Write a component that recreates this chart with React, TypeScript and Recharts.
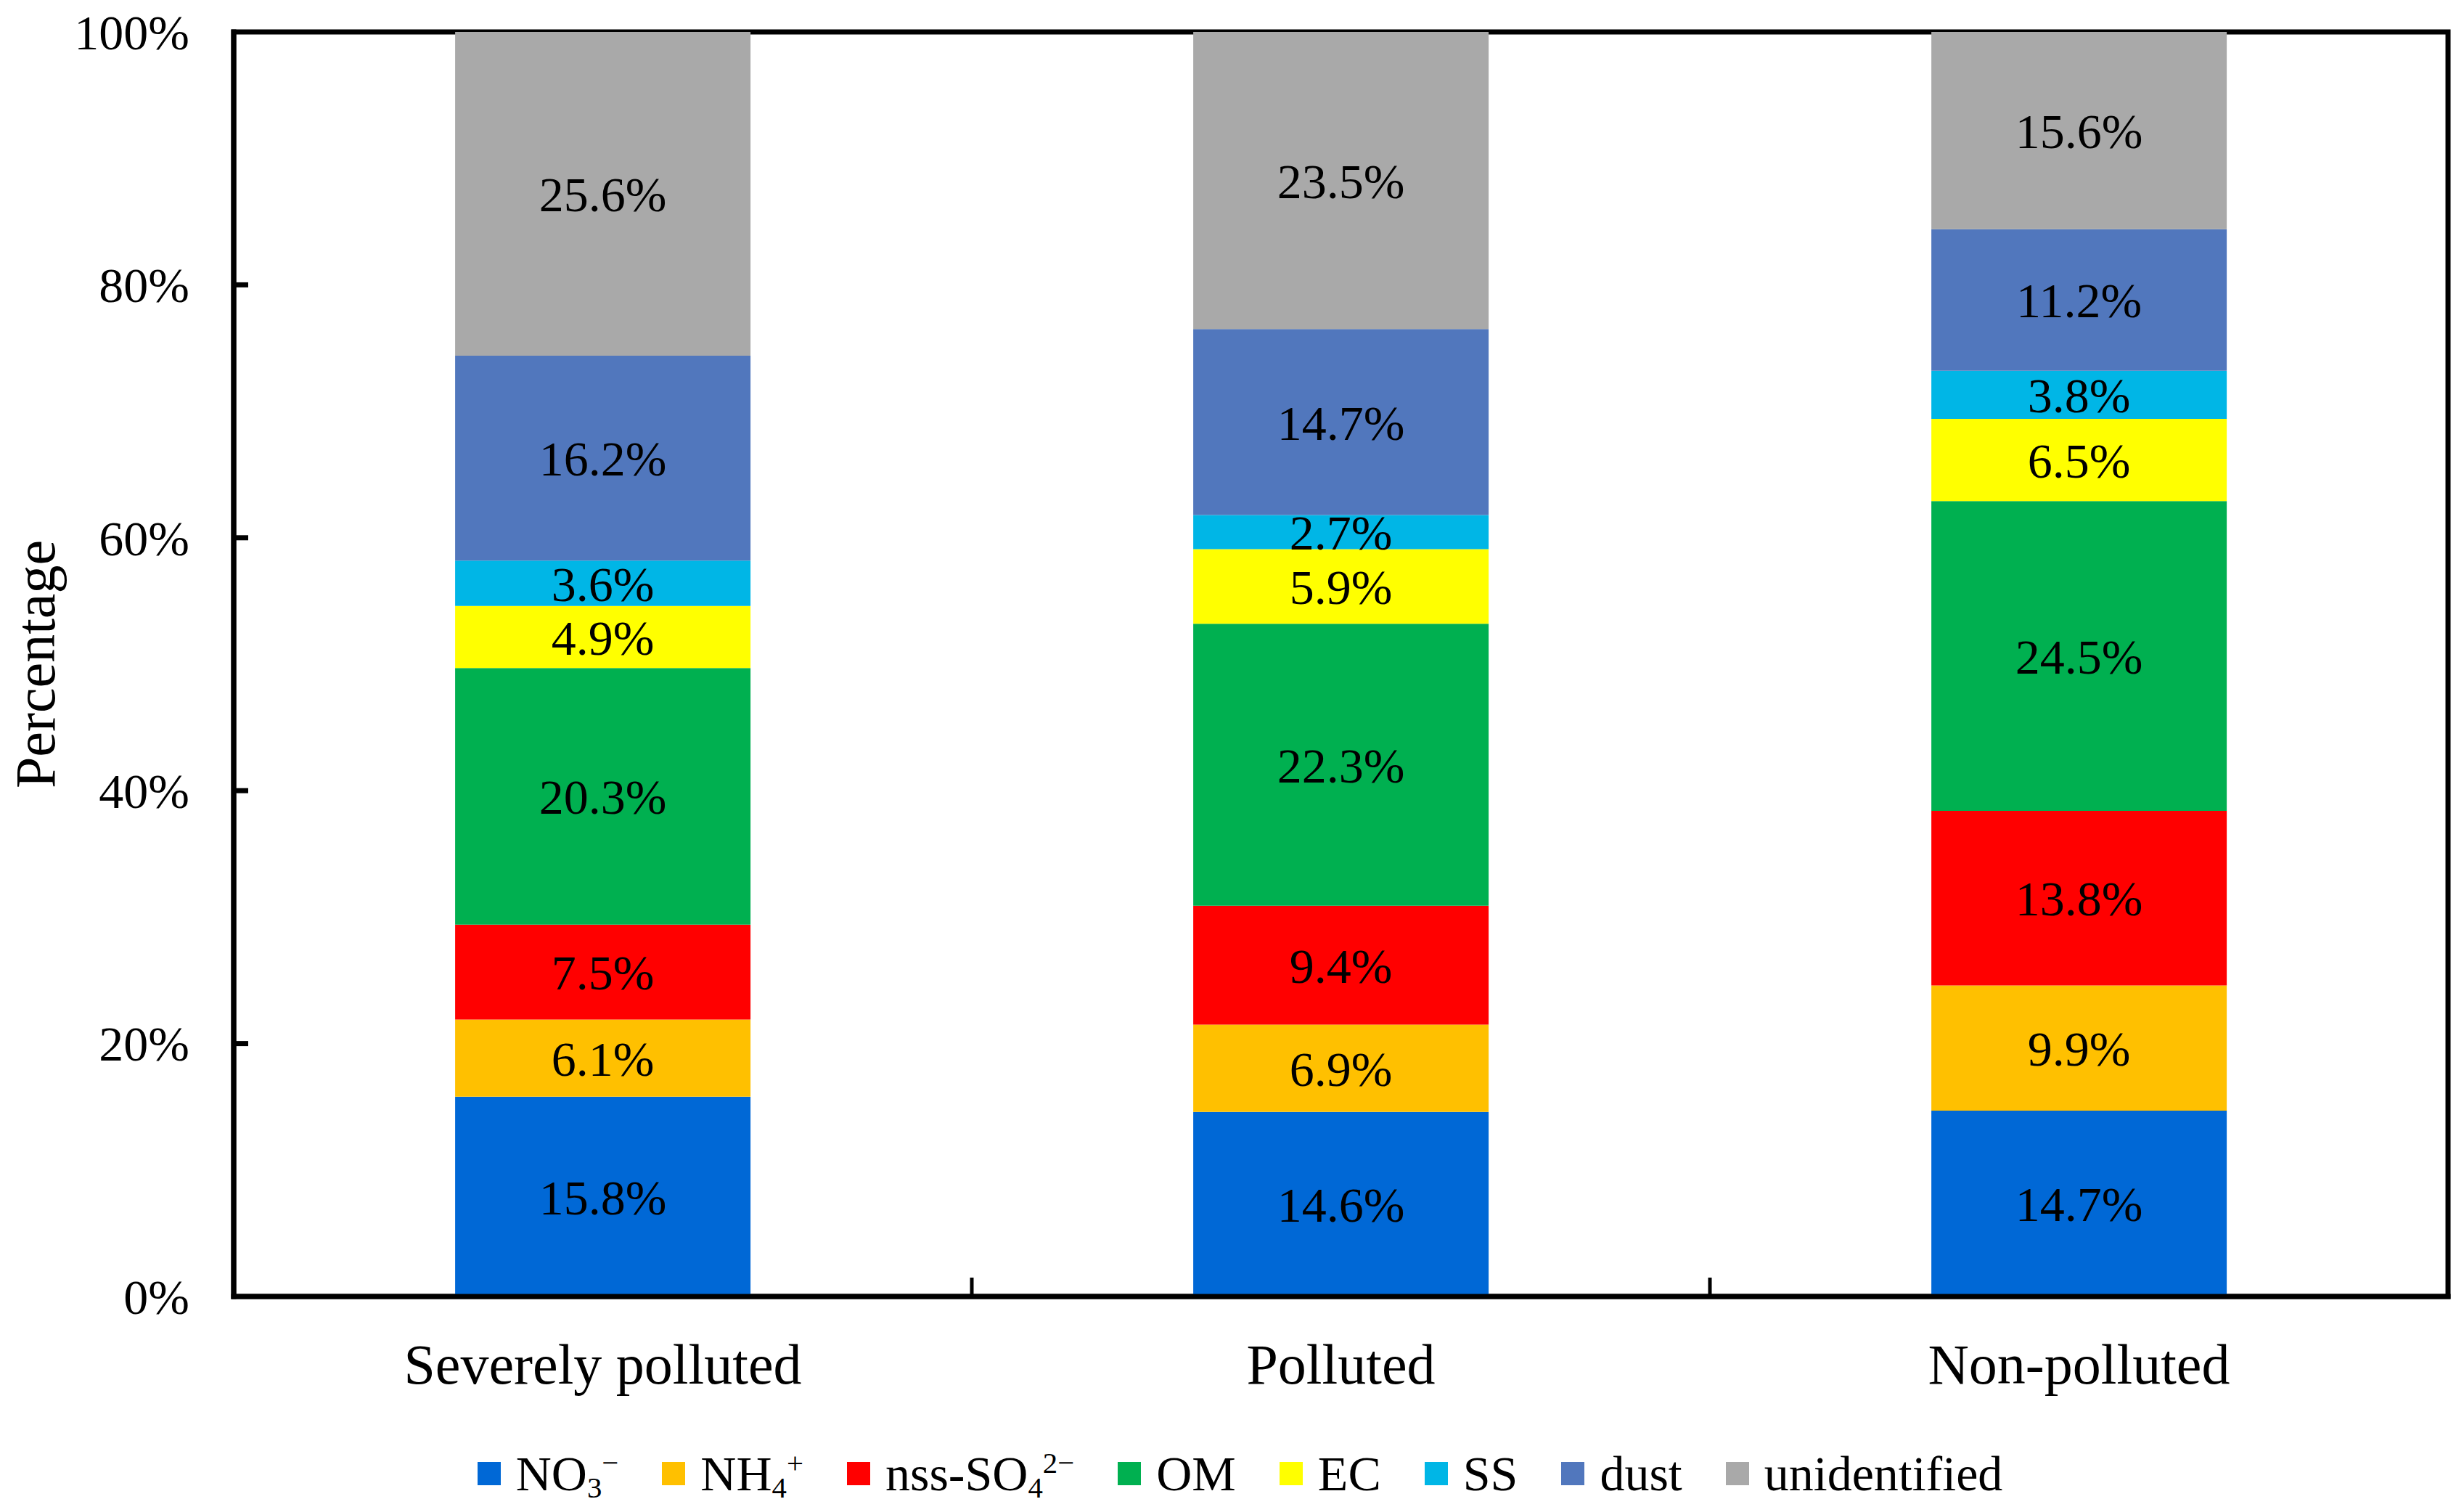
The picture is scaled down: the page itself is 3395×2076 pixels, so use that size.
import React from 'react';
import { BarChart, Bar, XAxis, YAxis, Legend, LabelList, ReferenceArea } from 'recharts';

const categories = ['Severely polluted', 'Polluted', 'Non-polluted'];
const no3 = [15.8, 14.6, 14.7];
const nh4 = [6.1, 6.9, 9.9];
const nssSo4 = [7.5, 9.4, 13.8];
const om = [20.3, 22.3, 24.5];
const ec = [4.9, 5.9, 6.5];
const ss = [3.6, 2.7, 3.8];
const dust = [16.2, 14.7, 11.2];
const unidentified = [25.6, 23.5, 15.6];
const yTicks = [0, 20, 40, 60, 80, 100];

const FONT = '"Liberation Serif", "Times New Roman", serif';
const W = 3395;
const H = 2076;
const MARGIN = { top: 44, right: 22, bottom: 0, left: 0 };
const Y_AXIS_W = 322;
const PLOT_W = W - MARGIN.left - MARGIN.right - Y_AXIS_W;

const series = [
  { key: 'no3', color: '#0068D6', label: <>NO<sub>3</sub><sup>−</sup></> },
  { key: 'nh4', color: '#FFC000', label: <>NH<sub>4</sub><sup>+</sup></> },
  { key: 'nssSo4', color: '#FF0000', label: <>nss-SO<sub>4</sub><sup>2−</sup></> },
  { key: 'om', color: '#00B050', label: <>OM</> },
  { key: 'ec', color: '#FFFF00', label: <>EC</> },
  { key: 'ss', color: '#00B6E6', label: <>SS</> },
  { key: 'dust', color: '#5177BD', label: <>dust</> },
  { key: 'unidentified', color: '#A9A9A9', label: <>unidentified</> },
];

const data = categories.map((name, i) => ({
  name,
  no3: no3[i],
  nh4: nh4[i],
  nssSo4: nssSo4[i],
  om: om[i],
  ec: ec[i],
  ss: ss[i],
  dust: dust[i],
  unidentified: unidentified[i],
}));

const subSupStyle = `
  .lg sub, .lg sup { font-size: 0.6em; line-height: 0; }
  .lg sub { vertical-align: -0.25em; }
  .lg sup { vertical-align: 0.6em; }
`;

function CategoryTick(props: any) {
  const { x, y, payload, index } = props;
  const band = PLOT_W / categories.length;
  return (
    <g>
      {index < categories.length - 1 && (
        <line x1={x + band / 2} x2={x + band / 2} y1={y} y2={y - 26} stroke="#000" strokeWidth={5} />
      )}
      <text x={x} y={y + 120} textAnchor="middle" fontSize={78} fontFamily={FONT} fill="#000">
        {payload.value}
      </text>
    </g>
  );
}

function PctTick(props: any) {
  const { x, y, payload } = props;
  return (
    <g>
      {payload.value > 0 && payload.value < 100 && (
        <line x1={x} x2={x + 20} y1={y} y2={y} stroke="#000" strokeWidth={7} />
      )}
      <text x={x - 61} y={y} dy="0.35em" textAnchor="end" fontSize={68} fontFamily={FONT} fill="#000">
        {payload.value}%
      </text>
    </g>
  );
}

function YTitle(props: any) {
  const vb = props.viewBox || { y: MARGIN.top, height: 1742 };
  const cy = vb.y + vb.height / 2;
  return (
    <text
      transform={`translate(48, ${cy}) rotate(-90)`}
      textAnchor="middle"
      dominantBaseline="central"
      fontSize={78}
      fontFamily={FONT}
      fill="#000"
    >
      Percentage
    </text>
  );
}

function LegendContent() {
  return (
    <div
      className="lg"
      style={{
        display: 'flex',
        justifyContent: 'center',
        alignItems: 'center',
        height: 92,
        fontFamily: FONT,
        fontSize: 68,
        color: '#000',
        gap: 60,
      }}
    >
      <style>{subSupStyle}</style>
      {series.map((s) => (
        <div key={s.key} style={{ display: 'flex', alignItems: 'center' }}>
          <span style={{ width: 32, height: 32, background: s.color, marginRight: 21, display: 'inline-block' }} />
          <span>{s.label}</span>
        </div>
      ))}
    </div>
  );
}

export default function App() {
  return (
    <div style={{ position: 'absolute', left: 0, top: 0, width: W, height: H, background: '#fff' }}>
      <BarChart width={W} height={H} data={data} margin={MARGIN} barCategoryGap="30%">
        <XAxis
          dataKey="name"
          height={198}
          interval={0}
          tickSize={0}
          tickMargin={0}
          tickLine={false}
          axisLine={{ stroke: '#000', strokeWidth: 7, strokeLinecap: 'square' }}
          tick={<CategoryTick />}
        />
        <YAxis
          width={Y_AXIS_W}
          domain={[0, 100]}
          ticks={yTicks}
          interval={0}
          tickSize={0}
          tickMargin={0}
          tickLine={false}
          axisLine={{ stroke: '#000', strokeWidth: 7, strokeLinecap: 'square' }}
          tick={<PctTick />}
          label={<YTitle />}
        />
        <Legend
          verticalAlign="bottom"
          height={92}
          wrapperStyle={{ left: 22, width: W - 22 }}
          content={<LegendContent />}
        />
        {series.map((s) => (
          <Bar key={s.key} dataKey={s.key} stackId="a" fill={s.color} isAnimationActive={false}>
            <LabelList
              dataKey={s.key}
              position="center"
              formatter={(v: any) => `${Number(v).toFixed(1)}%`}
              fill="#000"
              fontSize={68}
              fontFamily={FONT}
            />
          </Bar>
        ))}
        <ReferenceArea y1={0} y2={100} fill="none" fillOpacity={0} stroke="#000" strokeWidth={7} ifOverflow="visible" />
      </BarChart>
    </div>
  );
}
